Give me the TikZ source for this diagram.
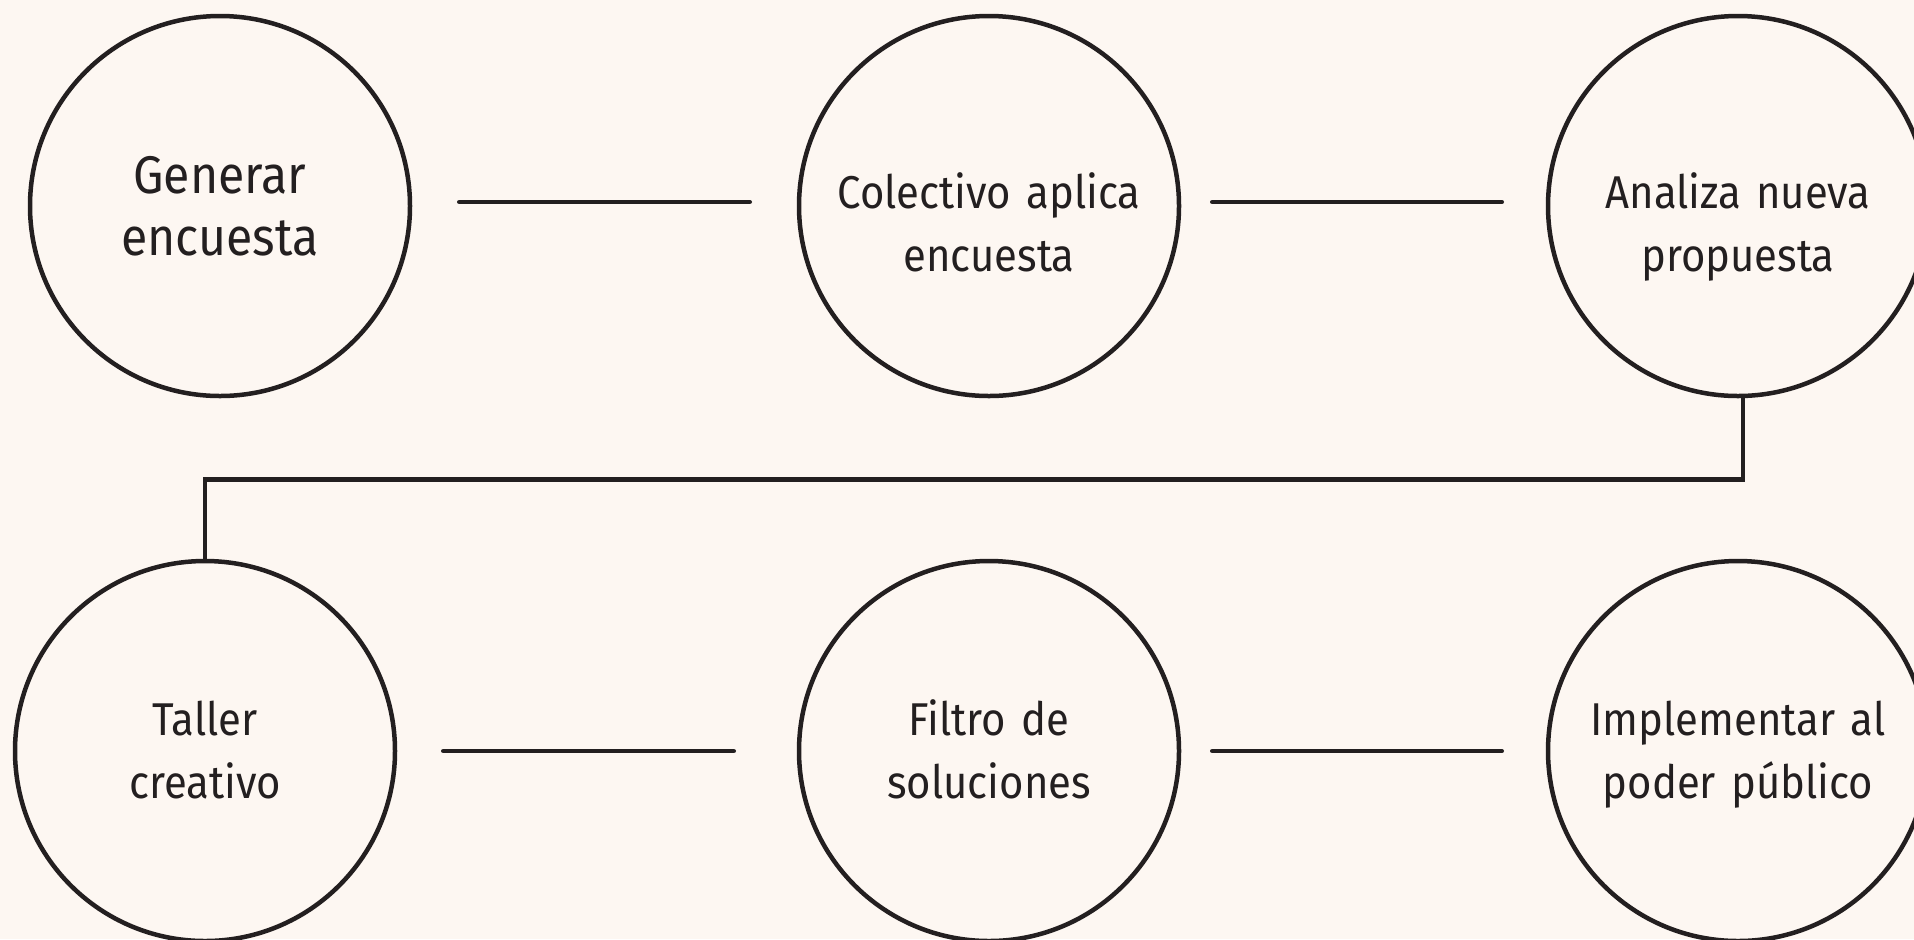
\documentclass[tikz,border=0pt]{standalone}
\usepackage{fontspec}
\setmainfont[FakeStretch=0.91]{Fira Sans}
\usetikzlibrary{calc}
\definecolor{bg}{HTML}{FDF7F2}
\definecolor{ink}{HTML}{231F20}
\begin{document}
\begin{tikzpicture}[x=0.5pt,y=-0.5pt,
  ringnode/.style={draw=ink,line width=2.25pt,inner sep=0pt,circle,minimum size=190pt},
  lbl/.style={text=ink,anchor=base,text width=180pt,align=center,inner sep=0pt,
    font={\fontsize{23pt}{31.5pt}\selectfont}},
  biglbl/.style={lbl,font={\fontsize{26.5pt}{31pt}\selectfont}},
  link/.style={draw=ink,line width=2.25pt,line cap=round},
  elbow/.style={draw=ink,line width=2.25pt}]
\useasboundingbox (0,0) rectangle (1914,939);
\clip (0,0) rectangle (1914,939);
\fill[bg] (0,0) rectangle (1914,939);
% stages
\node[ringnode] (c1) at (220,206) {};
\node[ringnode] (c2) at (989,206) {};
\node[ringnode] (c3) at (1738,206) {};
\node[ringnode] (c4) at (205,751) {};
\node[ringnode] (c5) at (989,751) {};
\node[ringnode] (c6) at (1738,751) {};
% labels
\node[biglbl] (t1) at (220,193) {Generar\\encuesta};
\node[lbl] (t2) at (989,208) {Colectivo aplica\\encuesta};
\node[lbl] (t3) at (1738,208) {Analiza nueva\\propuesta};
\node[lbl] (t4) at (205,735) {Taller\\creativo};
\node[lbl] (t5) at (989,735) {Filtro de\\soluciones};
\node[lbl] (t6) at (1738,735) {Implementar al\\poder público};
% connectors
\draw[link] ($(c1.east)+(47,-4)$) -- ($(c2.west)+(-47,-4)$);
\draw[link] ($(c2.east)+(31,-4)$) -- ($(c3.west)+(-44,-4)$);
\draw[link] ($(c4.east)+(46,0)$) -- ($(c5.west)+(-63,0)$);
\draw[link] ($(c5.east)+(31,0)$) -- ($(c6.west)+(-44,0)$);
\draw[elbow] ($(c3.south)+(5,0)$) -- ++(0,81) -| (c4.north);
\end{tikzpicture}
\end{document}
